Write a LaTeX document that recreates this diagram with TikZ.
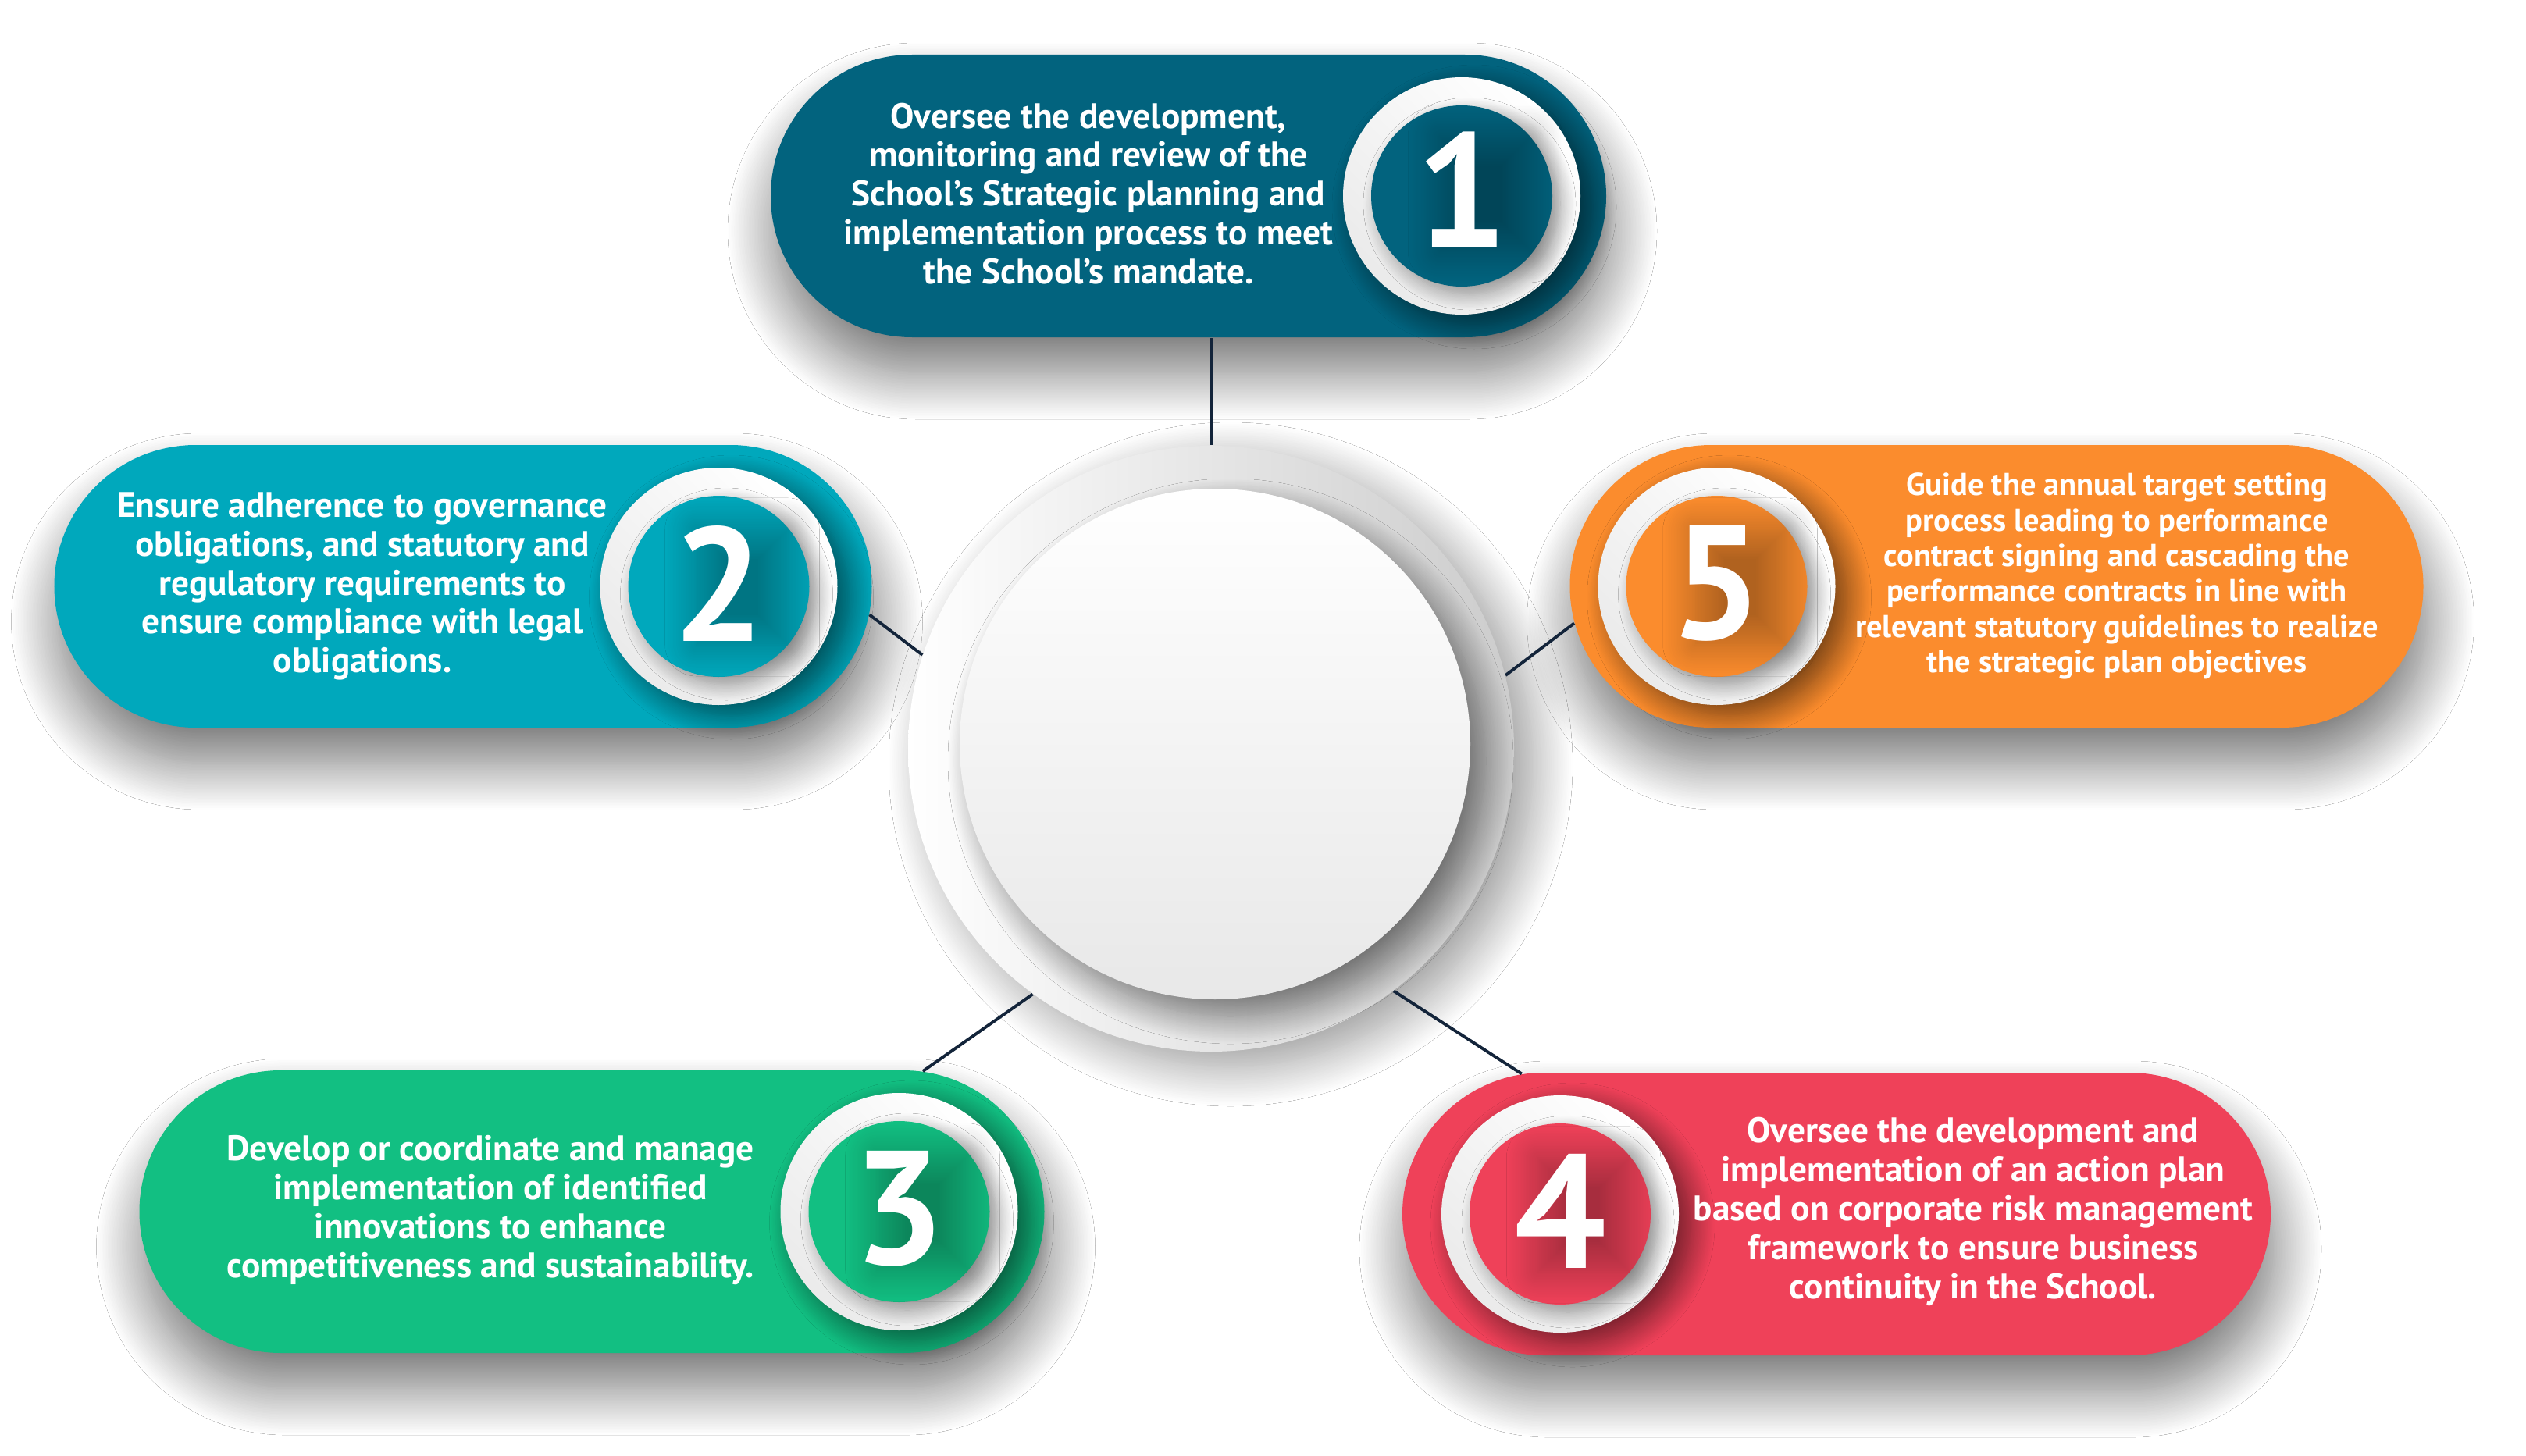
\documentclass[tikz,border=0pt]{standalone}
\usepackage{fontspec}
\setmainfont{PT Sans}
\usepackage{tikz}
\usetikzlibrary{positioning, shapes.misc, shadows.blur}

\definecolor{petrol}{RGB}{2,99,126}
\definecolor{lagoon}{RGB}{0,168,188}
\definecolor{leaf}{RGB}{18,191,130}
\definecolor{coral}{RGB}{239,65,89}
\definecolor{tangerine}{RGB}{251,140,45}
\definecolor{ink}{RGB}{19,36,58}

\begin{document}
\begin{tikzpicture}[
  pill/.style={rounded rectangle, minimum height=3.62cm, inner sep=0pt,
    blur shadow={shadow xshift=0.05cm, shadow yshift=-0.45cm, shadow blur radius=0.6cm,
      shadow blur steps=30, shadow opacity=55}},
  ring/.style={circle, minimum size=3.04cm, inner sep=0pt,
    top color=white, bottom color=black!8, shading angle=-45,
    blur shadow={shadow xshift=0.16cm, shadow yshift=-0.14cm, shadow blur radius=0.3cm,
      shadow blur steps=20, shadow opacity=55}},
  disk/.style={circle, minimum size=2.32cm, inner sep=0pt,
    blur shadow={shadow xshift=0.1cm, shadow yshift=-0.1cm, shadow blur radius=0.2cm,
      shadow blur steps=15, shadow opacity=40}},
  num/.style={text=white, inner sep=0pt, font=\bfseries\fontsize{59}{59}\selectfont,
    blur shadow={shadow xshift=0.3cm, shadow yshift=-0.05cm, shadow blur radius=0.4cm,
      shadow blur steps=20, shadow opacity=30}},
  desc/.style={text=white, align=center, inner sep=0pt, font=\bfseries\fontsize{12.9}{14.2}\selectfont},
  link/.style={draw=ink, line width=1.1pt}
]
\path[use as bounding box, fill=white] (0,0) rectangle (32.35,-18.65);

\node (hub) [circle, minimum size=7.76cm, inner sep=0pt, left color=white, right color=black!20,
  blur shadow={shadow xshift=0.25cm, shadow yshift=-0.2cm, shadow blur radius=0.5cm,
    shadow blur steps=30, shadow opacity=40}] at (15.51,-9.59) {};
\node (core) [circle, minimum size=6.54cm, inner sep=0pt, top color=white, bottom color=black!9,
  blur shadow={shadow xshift=0.2cm, shadow yshift=-0.22cm, shadow blur radius=0.35cm,
    shadow blur steps=25, shadow opacity=50}] at (15.56,-9.53) {};

\node (p1) [pill, fill=petrol, minimum width=10.70cm] at (15.22,-2.51) {};
\node (p2) [pill, fill=lagoon, minimum width=10.47cm] at (5.93,-7.51) {};
\node (p3) [pill, fill=leaf, minimum width=11.59cm] at (7.58,-15.52) {};
\node (p4) [pill, fill=coral, minimum width=11.12cm] at (23.52,-15.55) {};
\node (p5) [pill, fill=tangerine, minimum width=10.93cm] at (25.57,-7.51) {};

\node (n1) [ring, left=0.33cm of p1.east] {};
\node (n2) [ring, left=0.44cm of p2.east] {};
\node (n3) [ring, left=0.34cm of p3.east] {};
\node (n4) [ring, right=0.50cm of p4.west] {};
\node (n5) [ring, right=0.36cm of p5.west] {};

\node (d1) [disk, fill=petrol] at (n1) {};
\node (d2) [disk, fill=lagoon] at (n2) {};
\node (d3) [disk, fill=leaf] at (n3) {};
\node (d4) [disk, fill=coral] at (n4) {};
\node (d5) [disk, fill=tangerine] at (n5) {};

\node (k1) [num] at ([yshift=0.08cm]d1.center) {1};
\node (k2) [num] at ([yshift=0.04cm]d2.center) {2};
\node (k3) [num] at ([yshift=0.04cm]d3.center) {3};
\node (k4) [num] at ([yshift=0.04cm]d4.center) {4};
\node (k5) [num] at ([yshift=0.04cm]d5.center) {5};

\node (t1) [desc] at (13.94,-2.48) {Oversee the development,\\ monitoring and review of the\\ School’s Strategic planning and\\ implementation process to meet\\ the School’s mandate.};
\node (t2) [desc] at (4.64,-7.51) {Ensure adherence to governance\\ obligations, and statutory and\\ regulatory requirements to\\ ensure compliance with legal\\ obligations.};
\node (t3) [desc] at (6.28,-15.50) {Develop or coordinate and manage\\ implementation of identified\\ innovations to enhance\\ competitiveness and sustainability.};
\node (t4) [desc] at (25.27,-15.52) {Oversee the development and\\ implementation of an action plan\\ based on corporate risk management\\ framework to ensure business\\ continuity in the School.};
\node (t5) [desc, font=\bfseries\fontsize{11.5}{12.9}\selectfont] at (27.11,-7.38) {Guide the annual target setting\\ process leading to performance\\ contract signing and cascading the\\ performance contracts in line with\\ relevant statutory guidelines to realize\\ the strategic plan objectives};

\draw[link] (hub.north) -- (hub.north |- p1.south);
\draw[link] (hub.162.6) -- (p2.-4.7);
\draw[link] (hub.234) -- (p3.23.4);
\draw[link] (hub.307) -- (p4.156.8);
\draw[link] (hub.14.6) -- (p5.185);
\end{tikzpicture}
\end{document}
